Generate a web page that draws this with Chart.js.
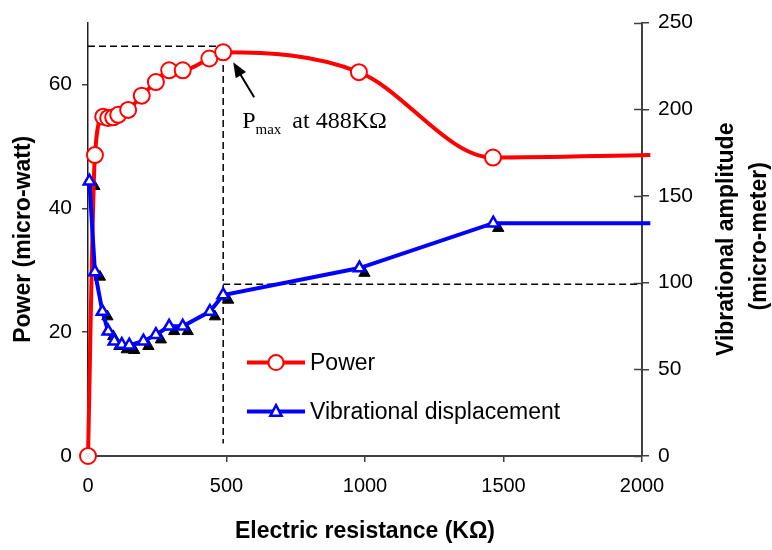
<!DOCTYPE html>
<html><head><meta charset="utf-8">
<script src="https://cdn.jsdelivr.net/npm/chart.js@4/dist/chart.umd.min.js"></script>
<style>html,body{margin:0;padding:0;background:#fff}#wrap{width:772px;height:550px}</style>
</head><body><div id="wrap"><canvas id="c" width="772" height="550"></canvas></div>
<script>
// ---- data ----
const powerResistance = [0, 25, 55, 73, 91, 109, 145, 194, 245, 293, 342, 438, 488, 978, 1462, 2030];
const powerValues     = [0, 48.6, 54.8, 54.6, 54.7, 55.1, 55.9, 58.2, 60.4, 62.3, 62.3, 64.2, 65.2, 62.0, 48.2, 48.6];
const vibResistance   = [5, 25, 52, 73, 95, 122, 149, 200, 245, 293, 342, 440, 488, 980, 1463, 2030];
const vibValues       = [158.5, 106.2, 83.3, 71.9, 66.2, 64.3, 63.9, 66.2, 70.0, 74.8, 74.8, 83.3, 92.9, 108.4, 134.3, 134.3];
const xTicks     = [0, 500, 1000, 1500, 2000];
const powerTicks = [0, 20, 40, 60];
const vibTicks   = [0, 50, 100, 150, 200, 250];
const pmaxResistance = 488;
const pmaxPower = 65.2;
const pmaxGuide = 66.2;
const vibGuide = 99;
const guideFloor = 2;

const SANS = "'Liberation Sans', Arial, sans-serif";
const SERIF = "'Liberation Serif', 'Times New Roman', serif";
Chart.defaults.font.family = SANS;
Chart.defaults.color = '#000';

const toPts = (xs, ys) => xs.map((x, i) => ({x, y: ys[i]}));
const markerR = (xs, r) => xs.map(x => x > xTicks[xTicks.length - 1] ? 0 : r);

const shadowPlugin = {
  id: 'shadow',
  beforeDatasetDraw(chart, args) {
    if (chart.data.datasets[args.index].isShadow) { chart.ctx.save(); chart.ctx.translate(5, 5); }
  },
  afterDatasetDraw(chart, args) {
    if (chart.data.datasets[args.index].isShadow) chart.ctx.restore();
  }
};

const decorPlugin = {
  id: 'decor',
  afterDraw(chart) {
    const ctx = chart.ctx, ca = chart.chartArea;
    const xs = chart.scales.x, ys = chart.scales.y, y1 = chart.scales.y1;
    ctx.save();
    // inner ticks on the right axis
    ctx.strokeStyle = '#404040'; ctx.lineWidth = 1.5;
    vibTicks.forEach(v => {
      const py = Math.round(y1.getPixelForValue(v)) + 0.5;
      ctx.beginPath(); ctx.moveTo(ca.right - 8, py); ctx.lineTo(ca.right, py); ctx.stroke();
    });
    // Pmax annotation
    const px = xs.getPixelForValue(pmaxResistance), py = ys.getPixelForValue(pmaxPower);
    const tipX = px + 10, tipY = py + 10, tailX = px + 31, tailY = py + 45;
    const ang = Math.atan2(tipY - tailY, tipX - tailX);
    ctx.strokeStyle = '#000'; ctx.fillStyle = '#000'; ctx.lineWidth = 2;
    ctx.beginPath(); ctx.moveTo(tailX, tailY);
    ctx.lineTo(tipX - 10 * Math.cos(ang), tipY - 10 * Math.sin(ang)); ctx.stroke();
    ctx.beginPath(); ctx.moveTo(tipX, tipY);
    ctx.lineTo(tipX - 15 * Math.cos(ang) + 6 * Math.sin(ang), tipY - 15 * Math.sin(ang) - 6 * Math.cos(ang));
    ctx.lineTo(tipX - 15 * Math.cos(ang) - 6 * Math.sin(ang), tipY - 15 * Math.sin(ang) + 6 * Math.cos(ang));
    ctx.closePath(); ctx.fill();
    ctx.textAlign = 'left'; ctx.textBaseline = 'alphabetic';
    let tx = px + 19; const tb = py + 76;
    ctx.font = '24px ' + SERIF; ctx.fillText('P', tx, tb); tx += ctx.measureText('P').width;
    ctx.font = '15px ' + SERIF; ctx.fillText('max', tx, tb + 6); tx += ctx.measureText('max').width + 11;
    ctx.font = '24px ' + SERIF; ctx.fillText('at 488KΩ', tx, tb);
    // legend
    const lx = ca.left + 159, l1 = ca.top + 340, l2 = ca.top + 389;
    ctx.lineWidth = 4;
    ctx.strokeStyle = '#ff0000';
    ctx.beginPath(); ctx.moveTo(lx, l1); ctx.lineTo(lx + 58, l1); ctx.stroke();
    ctx.lineWidth = 2; ctx.fillStyle = '#fff';
    ctx.beginPath(); ctx.arc(lx + 29, l1, 7.5, 0, Math.PI * 2); ctx.fill(); ctx.stroke();
    ctx.lineWidth = 4; ctx.strokeStyle = '#0000ff';
    ctx.beginPath(); ctx.moveTo(lx, l2); ctx.lineTo(lx + 58, l2); ctx.stroke();
    ctx.lineWidth = 2.5; ctx.fillStyle = '#fff';
    const tr = 6.5, cx = lx + 29;
    ctx.beginPath();
    ctx.moveTo(cx, l2 - tr);
    ctx.lineTo(cx + tr * Math.sin(Math.PI / 3), l2 + tr / 2 + 1);
    ctx.lineTo(cx - tr * Math.sin(Math.PI / 3), l2 + tr / 2 + 1);
    ctx.closePath(); ctx.fill(); ctx.stroke();
    ctx.fillStyle = '#000'; ctx.font = '23px ' + SANS; ctx.textBaseline = 'middle';
    ctx.fillText('Power', lx + 63, l1 + 1);
    ctx.fillText('Vibrational displacement', lx + 63, l2 + 1);
    // right axis title
    const cy = (ca.top + ca.bottom) / 2;
    ctx.font = 'bold 23px ' + SANS; ctx.textAlign = 'center';
    ctx.translate(ca.right + 85, cy); ctx.rotate(-Math.PI / 2);
    ctx.fillText('Vibrational amplitude', 0, 0);
    ctx.fillText('(micro-meter)', 3, 33);
    ctx.restore();
  }
};

new Chart(document.getElementById('c'), {
  type: 'line',
  data: {
    datasets: [
      {
        label: 'Vibrational displacement', yAxisID: 'y1', order: 0,
        data: toPts(vibResistance, vibValues),
        borderColor: '#0000ff', borderWidth: 4, tension: 0,
        pointStyle: 'triangle', pointRadius: markerR(vibResistance, 6.5),
        pointBackgroundColor: '#fff', pointBorderColor: '#0000ff', pointBorderWidth: 2.5,
        clip: false
      },
      {
        label: 'Power', yAxisID: 'y', order: 1,
        data: toPts(powerResistance, powerValues),
        borderColor: '#ff0000', borderWidth: 4, cubicInterpolationMode: 'monotone',
        pointStyle: 'circle', pointRadius: markerR(powerResistance, 8),
        pointBackgroundColor: '#fff', pointBorderColor: '#ff0000', pointBorderWidth: 2,
        clip: false
      },
      {
        label: 'shadow', yAxisID: 'y1', order: 2, isShadow: true,
        data: toPts(vibResistance, vibValues),
        showLine: false,
        pointStyle: 'triangle', pointRadius: markerR(vibResistance, 6.5),
        pointBackgroundColor: '#000', pointBorderColor: '#000', pointBorderWidth: 1,
        clip: false
      },
      {
        label: 'guide1', yAxisID: 'y', order: 3,
        data: [{x: 0, y: pmaxGuide}, {x: pmaxResistance, y: pmaxGuide}, {x: pmaxResistance, y: guideFloor}],
        borderColor: '#000', borderWidth: 1.5, borderDash: [7, 4], pointRadius: 0, tension: 0
      },
      {
        label: 'guide2', yAxisID: 'y1', order: 3,
        data: [{x: pmaxResistance, y: vibGuide}, {x: xTicks[xTicks.length - 1], y: vibGuide}],
        borderColor: '#000', borderWidth: 1.5, borderDash: [7, 4], pointRadius: 0, tension: 0
      }
    ]
  },
  options: {
    responsive: false, animation: false, devicePixelRatio: 1,
    layout: {padding: {top: 18, left: 0, right: 0, bottom: 0}},
    plugins: {legend: {display: false}, tooltip: {enabled: false}},
    scales: {
      x: {
        type: 'linear', min: xTicks[0], max: xTicks[xTicks.length - 1],
        afterBuildTicks: s => { s.ticks = xTicks.map(v => ({value: v})); },
        afterFit: s => { s.height = 94; },
        grid: {drawOnChartArea: false, tickLength: 6, color: '#404040', lineWidth: 1.5},
        border: {color: '#404040', width: 2},
        ticks: {font: {size: 20}, padding: 12, color: '#000', maxRotation: 0, callback: v => String(v)},
        title: {display: true, text: 'Electric resistance (KΩ)', font: {size: 23, weight: 'bold'}, padding: {top: 0, bottom: 5}, color: '#000'}
      },
      y: {
        type: 'linear', position: 'left', min: 0, max: 70,
        afterBuildTicks: s => { s.ticks = powerTicks.map(v => ({value: v})); },
        afterFit: s => { s.width = 88; },
        grid: {drawOnChartArea: false, tickLength: 6, color: '#404040', lineWidth: 1.5},
        border: {color: '#202020', width: 1.5},
        ticks: {font: {size: 21}, padding: 10, color: '#000', callback: v => String(v)},
        title: {display: true, text: 'Power (micro-watt)', font: {size: 23, weight: 'bold'}, padding: {top: 10, bottom: 0}, color: '#000'}
      },
      y1: {
        type: 'linear', position: 'right', min: 0, max: 250,
        afterBuildTicks: s => { s.ticks = vibTicks.map(v => ({value: v})); },
        afterFit: s => { s.width = 130; },
        grid: {drawOnChartArea: false, tickLength: 7, color: '#404040', lineWidth: 1.5},
        border: {color: '#404040', width: 2},
        ticks: {font: {size: 21}, padding: 9, color: '#000', callback: v => String(v)}
      }
    }
  },
  plugins: [shadowPlugin, decorPlugin]
});
</script>
</body></html>
